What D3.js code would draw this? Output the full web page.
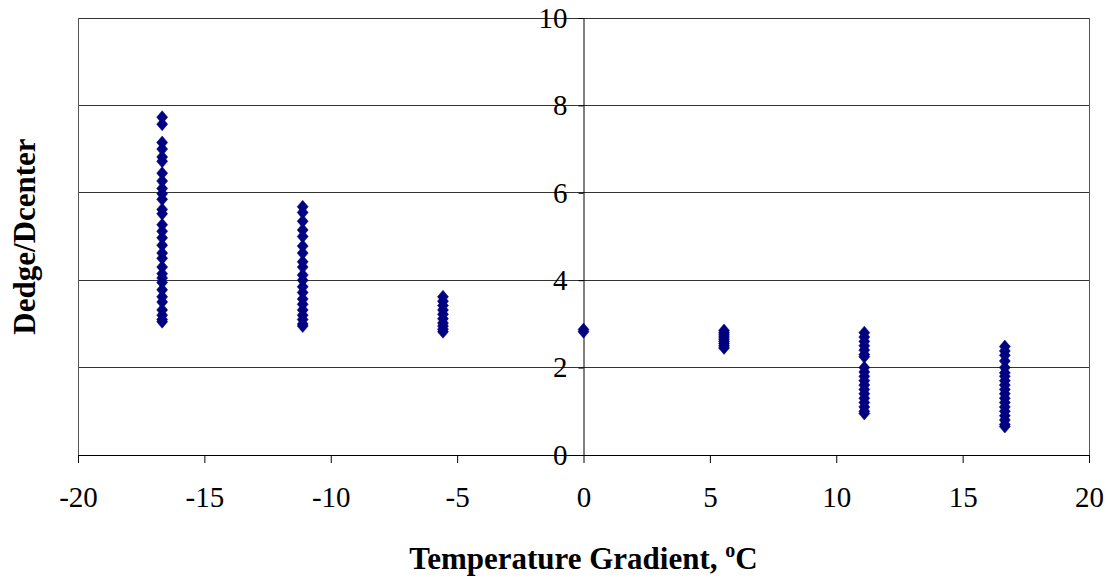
<!DOCTYPE html>
<html><head><meta charset="utf-8">
<script src="https://cdn.jsdelivr.net/npm/d3@7"></script>
<style>body{margin:0;background:#fff}svg{display:block}</style>
</head><body><svg id="c" width="1108" height="579"></svg>
<script>
const xTicks = [-20,-15,-10,-5,0,5,10,15,20];
const yTicks = [0,2,4,6,8,10];
const gradients = [-16.67,-11.11,-5.56,0,5.56,11.11,16.67];
const ratiosM1667 = [7.73,7.57,7.15,7.0,6.82,6.72,6.45,6.27,6.1,5.98,5.85,5.62,5.52,5.27,5.12,4.97,4.8,4.62,4.5,4.3,4.15,4.05,3.95,3.78,3.62,3.5,3.32,3.2,3.1,3.05];
const ratiosM1111 = [5.68,5.55,5.35,5.15,5.0,4.78,4.62,4.42,4.3,4.12,4.0,3.85,3.72,3.57,3.45,3.32,3.2,3.1,3.0,2.95];
const ratiosM556 = [3.62,3.52,3.42,3.32,3.22,3.12,3.02,2.95,2.88,2.82];
const ratios0 = [2.87,2.82];
const ratios556 = [2.85,2.8,2.75,2.7,2.65,2.6,2.55,2.5,2.45];
const ratios1111 = [2.8,2.7,2.6,2.5,2.4,2.3,2.25,2.0,1.9,1.8,1.7,1.6,1.5,1.4,1.3,1.2,1.1,1.0,0.95];
const ratios1667 = [2.48,2.38,2.28,2.15,2.0,1.88,1.8,1.7,1.6,1.5,1.4,1.3,1.2,1.1,1.0,0.9,0.8,0.7,0.65];
const groups = [ratiosM1667,ratiosM1111,ratiosM556,ratios0,ratios556,ratios1111,ratios1667];

const svg = d3.select("#c");
const L=78,R=1089,T=18,B=455;
const x = d3.scaleLinear().domain([-20,20]).range([L,R]);
const y = d3.scaleLinear().domain([0,10]).range([B,T]);
const font = "'Liberation Serif','Times New Roman',serif";

// gridlines
svg.append("g").selectAll("line").data(yTicks.filter(d=>d>0)).join("line")
  .attr("x1",L).attr("x2",R).attr("y1",d=>y(d)).attr("y2",d=>y(d))
  .attr("stroke","#333").attr("stroke-width",1).attr("shape-rendering","crispEdges");
// plot frame left/right
svg.append("line").attr("x1",L).attr("x2",L).attr("y1",T).attr("y2",B).attr("stroke","#555").attr("shape-rendering","crispEdges");
svg.append("line").attr("x1",R).attr("x2",R).attr("y1",T).attr("y2",B).attr("stroke","#555").attr("shape-rendering","crispEdges");

// x axis
const xa = svg.append("g").attr("transform",`translate(0,${B})`)
  .call(d3.axisBottom(x).tickValues(xTicks).tickSize(8).tickSizeOuter(0).tickPadding(23).tickFormat(d=>String(d)));
xa.select(".domain").attr("stroke","#000");
xa.selectAll(".tick line").attr("stroke","#000");
xa.selectAll("text").attr("font-family",font).attr("font-size",29).attr("fill","#000");

// y axis at x=0
const ya = svg.append("g").attr("transform",`translate(${x(0)},0)`)
  .call(d3.axisLeft(y).tickValues(yTicks).tickSize(5).tickSizeOuter(0).tickPadding(11).tickFormat(d=>String(d)));
ya.select(".domain").attr("stroke","#000");
ya.selectAll(".tick line").attr("stroke","#000");
ya.selectAll("text").attr("font-family",font).attr("font-size",29).attr("fill","#000");

// points
const pts = [];
groups.forEach((g,i)=>g.forEach(v=>pts.push({x:gradients[i],y:v})));
const diamond = "M0,-6.5L5.5,0L0,6.5L-5.5,0Z";
svg.append("g").selectAll("path").data(pts).join("path")
  .attr("d",diamond).attr("transform",d=>`translate(${x(d.x)},${y(d.y)})`)
  .attr("fill","#000080").attr("stroke","#000080").attr("stroke-width",0.5);

// axis titles
const xt = svg.append("text").attr("x",(L+R)/2).attr("y",569).attr("text-anchor","middle")
  .attr("font-family",font).attr("font-size",31).attr("font-weight","bold");
xt.append("tspan").text("Temperature Gradient, ");
xt.append("tspan").attr("font-size",20).attr("dy",-12).text("o");
xt.append("tspan").attr("dy",12).text("C");

svg.append("text").attr("transform",`translate(35,${(T+B)/2}) rotate(-90)`).attr("text-anchor","middle")
  .attr("font-family",font).attr("font-size",31).attr("font-weight","bold").text("Dedge/Dcenter");
</script></body></html>
